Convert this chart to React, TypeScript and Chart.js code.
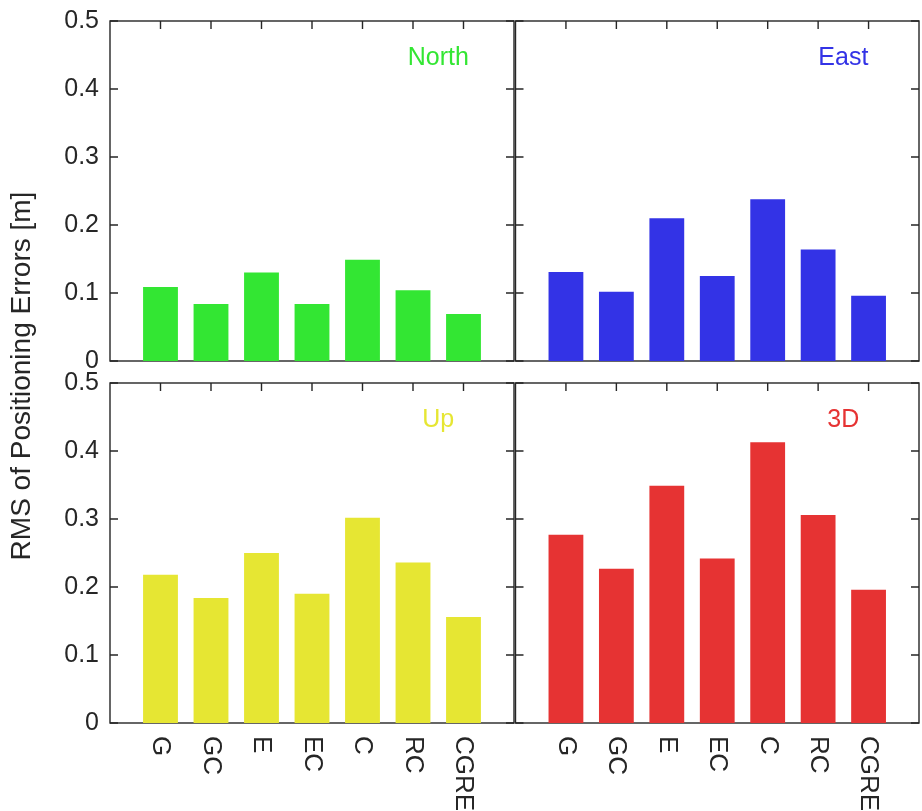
import React, { useEffect, useRef } from 'react';
import { Chart, registerables } from 'chart.js';

Chart.register(...registerables);

// ---- data ----
const categories = ['G', 'GC', 'E', 'EC', 'C', 'RC', 'CGRE'];
const northRms = [0.109, 0.084, 0.130, 0.084, 0.149, 0.104, 0.069];
const eastRms = [0.131, 0.102, 0.210, 0.125, 0.238, 0.164, 0.096];
const upRms = [0.218, 0.184, 0.250, 0.190, 0.302, 0.236, 0.156];
const rms3d = [0.277, 0.227, 0.349, 0.242, 0.413, 0.306, 0.196];
const yTickValues = [0, 0.1, 0.2, 0.3, 0.4, 0.5];
const panelNames = ['North', 'East', 'Up', '3D'];
const yTitle = 'RMS of Positioning Errors [m]';

// ---- style / layout ----
const W = 922;
const H = 811;
const FONT = '"Liberation Sans", Arial, Helvetica, sans-serif';
const AXIS_COLOR = '#262626';
const panelColors = ['#33e633', '#3333e6', '#e6e633', '#e63333'];
const panelRects = [
  { left: 110, top: 21, right: 514, bottom: 361 },
  { left: 515.5, top: 21, right: 919, bottom: 361 },
  { left: 110, top: 383, right: 514, bottom: 723 },
  { left: 515.5, top: 383, right: 919, bottom: 723 },
];
const seriesList = [northRms, eastRms, upRms, rms3d];

const framePlugin = {
  id: 'frame',
  beforeDatasetsDraw(chart: any) {
    const { ctx, chartArea: a, scales } = chart;
    const x = scales.x;
    const y = scales.y;
    ctx.save();
    ctx.strokeStyle = AXIS_COLOR;
    ctx.lineWidth = 1.4;
    ctx.strokeRect(a.left, a.top, a.right - a.left, a.bottom - a.top);
    ctx.beginPath();
    yTickValues.forEach((v) => {
      const py = y.getPixelForValue(v);
      ctx.moveTo(a.left, py);
      ctx.lineTo(a.left + 8, py);
      ctx.moveTo(a.right, py);
      ctx.lineTo(a.right - 8, py);
    });
    categories.forEach((_c, i) => {
      const px = x.getPixelForValue(i + 1);
      ctx.moveTo(px, a.top);
      ctx.lineTo(px, a.top + 8);
      ctx.moveTo(px, a.bottom);
      ctx.lineTo(px, a.bottom - 8);
    });
    ctx.stroke();
    ctx.restore();
  },
};

const textPlugin = {
  id: 'panelText',
  afterDraw(chart: any, _args: any, opts: any) {
    const { ctx, chartArea: a, scales } = chart;
    const x = scales.x;
    const y = scales.y;
    ctx.save();
    ctx.font = `25px ${FONT}`;
    ctx.fillStyle = opts.color;
    ctx.textAlign = 'center';
    ctx.textBaseline = 'alphabetic';
    ctx.fillText(opts.name, x.getPixelForValue(6.5), y.getPixelForValue(0.435));

    if (opts.showX) {
      ctx.fillStyle = AXIS_COLOR;
      ctx.font = `26px ${FONT}`;
      ctx.textAlign = 'left';
      ctx.textBaseline = 'middle';
      categories.forEach((c, i) => {
        ctx.save();
        ctx.translate(x.getPixelForValue(i + 1), a.bottom + 13);
        ctx.rotate(Math.PI / 2);
        ctx.fillText(c, 0, 0);
        ctx.restore();
      });
    }
    if (opts.showTitle) {
      ctx.fillStyle = AXIS_COLOR;
      ctx.font = `28px ${FONT}`;
      ctx.textAlign = 'center';
      ctx.textBaseline = 'middle';
      ctx.translate(22, 376);
      ctx.rotate(-Math.PI / 2);
      ctx.fillText(yTitle, 0, 0);
    }
    ctx.restore();
  },
};

function makeConfig(idx: number): any {
  const r = panelRects[idx];
  const showY = idx === 0 || idx === 2;
  const showX = idx >= 2;
  const values = seriesList[idx];
  return {
    type: 'bar',
    data: {
      datasets: [
        {
          label: panelNames[idx],
          data: values.map((v, i) => ({ x: i + 1, y: v })),
          backgroundColor: panelColors[idx],
          borderWidth: 0,
          barPercentage: 0.69,
          categoryPercentage: 1,
        },
      ],
    },
    options: {
      responsive: false,
      animation: false,
      devicePixelRatio: 1,
      layout: {
        padding: {
          left: showY ? 0 : r.left,
          top: r.top,
          right: W - r.right,
          bottom: H - r.bottom,
        },
      },
      plugins: {
        legend: { display: false },
        tooltip: { enabled: false },
        panelText: {
          name: panelNames[idx],
          color: panelColors[idx],
          showX,
          showTitle: idx === 0,
        },
      },
      scales: {
        x: {
          type: 'linear',
          display: false,
          min: 0,
          max: 8,
          offset: false,
          ticks: { stepSize: 1 },
          grid: { offset: false },
        },
        y: {
          type: 'linear',
          display: showY,
          min: 0,
          max: 0.5,
          afterFit: (s: any) => {
            s.width = showY ? r.left : 0;
            s.paddingTop = 0;
            s.paddingBottom = 0;
          },
          border: { display: false },
          grid: { display: false, drawTicks: false },
          ticks: {
            stepSize: 0.1,
            padding: 11,
            color: AXIS_COLOR,
            font: { family: FONT, size: 25 },
            callback: (v: number) => (Math.abs(v) < 1e-9 ? '0' : Number(v).toFixed(1)),
          },
        },
      },
    },
    plugins: [framePlugin, textPlugin],
  };
}

export default function App() {
  const refs = [
    useRef<HTMLCanvasElement>(null),
    useRef<HTMLCanvasElement>(null),
    useRef<HTMLCanvasElement>(null),
    useRef<HTMLCanvasElement>(null),
  ];

  useEffect(() => {
    const charts: Chart[] = [];
    refs.forEach((ref, idx) => {
      if (ref.current) {
        charts.push(new Chart(ref.current, makeConfig(idx)));
      }
    });
    return () => {
      charts.forEach((c) => c.destroy());
    };
  }, []);

  return (
    <div
      style={{
        position: 'absolute',
        left: 0,
        top: 0,
        width: W,
        height: H,
        background: '#ffffff',
        overflow: 'hidden',
      }}
    >
      {refs.map((ref, idx) => (
        <canvas
          key={idx}
          ref={ref}
          width={W}
          height={H}
          style={{ position: 'absolute', left: 0, top: 0, width: W, height: H }}
        />
      ))}
    </div>
  );
}
